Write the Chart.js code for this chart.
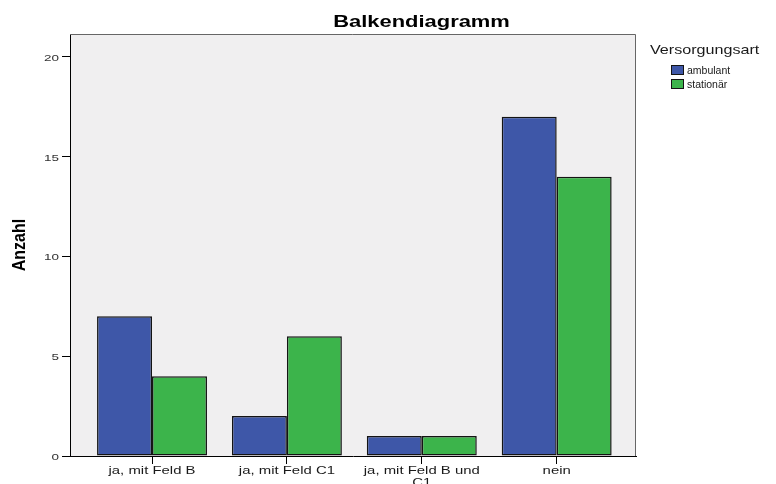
<!DOCTYPE html>
<html>
<head>
<meta charset="utf-8">
<script src="https://cdn.jsdelivr.net/npm/chart.js@4.4.1/dist/chart.umd.min.js"></script>
<style>
  html, body { margin: 0; padding: 0; background: #fff; }
  #wrap { width: 776px; height: 484px; }
</style>
</head>
<body>
<div id="wrap"><canvas id="chart" width="776" height="484"></canvas></div>
<script>
// Balkendiagramm — Anzahl je Kategorie, gruppiert nach Versorgungsart.
const categories = ['ja, mit Feld B', 'ja, mit Feld C1', ['ja, mit Feld B und', 'C1'], 'nein'];
const ambulant   = [7, 2, 1, 17];
const stationaer = [4, 6, 1, 14];
const yTicks     = [0, 5, 10, 15, 20];
const seriesNames = ['ambulant', 'stationär'];
const chartTitle  = 'Balkendiagramm';
const legendTitle = 'Versorgungsart';
const yTitle      = 'Anzahl';

const BLUE = '#3e57a8';
const GREEN = '#3cb44b';
const EDGE = '#141414';
const PLOT_BG = '#f0eff0';
const FONT = '"Liberation Sans", Arial, sans-serif';

// draws text stretched horizontally like the SPSS export
function wideText(ctx, text, x, y, { size, bold = false, sx = 1, align = 'left', color = '#000' }) {
    ctx.save();
    ctx.translate(x, y);
    ctx.scale(sx, 1);
    ctx.font = `${bold ? 'bold ' : ''}${size}px ${FONT}`;
    ctx.fillStyle = color;
    ctx.textAlign = align;
    ctx.textBaseline = 'alphabetic';
    ctx.fillText(text, 0, 0);
    ctx.restore();
}

const spssFrame = {
    id: 'spssFrame',
    beforeDraw(chart) {
        const { ctx, chartArea: a } = chart;
        ctx.save();
        ctx.fillStyle = PLOT_BG;
        ctx.fillRect(a.left, a.top, a.right - a.left, a.bottom - a.top);
        ctx.restore();
    },
    afterDraw(chart) {
        const { ctx, chartArea: a, scales } = chart;
        ctx.save();
        ctx.strokeStyle = '#666';
        ctx.lineWidth = 1;
        ctx.beginPath();
        ctx.moveTo(a.left, a.top + 0.5);
        ctx.lineTo(a.right - 0.5, a.top + 0.5);
        ctx.lineTo(a.right - 0.5, a.bottom);
        ctx.stroke();
        ctx.restore();

        // category labels under the tick marks
        scales.x.ticks.forEach((t, i) => {
            const px = scales.x.getPixelForTick(i);
            const lines = [].concat(categories[t.value]);
            lines.forEach((line, k) => {
                wideText(ctx, line, px, a.bottom + 18 + k * 11.5, { size: 10.5, sx: 1.42, align: 'center', color: '#1a1a1a' });
            });
        });

        // value labels left of the y axis
        scales.y.ticks.forEach((t, i) => {
            const py = scales.y.getPixelForTick(i);
            wideText(ctx, String(t.value), a.left - 11, py + 4, { size: 9.5, sx: 1.42, align: 'right', color: '#333' });
        });

        // title
        wideText(ctx, chartTitle, 421.5, 27, { size: 17, bold: true, sx: 1.29, align: 'center' });

        // y axis title, rotated
        ctx.save();
        ctx.translate(20, (a.top + a.bottom) / 2);
        ctx.rotate(-Math.PI / 2);
        ctx.scale(1, 1.15);
        ctx.font = `bold 16px ${FONT}`;
        ctx.fillStyle = '#000';
        ctx.textAlign = 'center';
        ctx.textBaseline = 'middle';
        ctx.fillText(yTitle, 0, 0);
        ctx.restore();

        // legend
        wideText(ctx, legendTitle, 650, 54, { size: 13, sx: 1.24, color: '#1a1a1a' });
        const colors = [BLUE, GREEN];
        seriesNames.forEach((name, i) => {
            const top = 65 + i * 14;
            ctx.save();
            ctx.fillStyle = colors[i];
            ctx.fillRect(671, top, 13, 10);
            ctx.strokeStyle = EDGE;
            ctx.lineWidth = 1;
            ctx.strokeRect(671.5, top + 0.5, 12, 9);
            ctx.restore();
            wideText(ctx, name, 687, top + 9, { size: 10, sx: 1.05, color: '#1a1a1a' });
        });
    },
};

new Chart(document.getElementById('chart'), {
    type: 'bar',
    data: {
        labels: categories,
        datasets: [
            { label: seriesNames[0], data: ambulant, backgroundColor: BLUE, borderColor: EDGE, borderWidth: 1.5, borderSkipped: false },
            { label: seriesNames[1], data: stationaer, backgroundColor: GREEN, borderColor: EDGE, borderWidth: 1.5, borderSkipped: false },
        ],
    },
    options: {
        responsive: false,
        animation: false,
        devicePixelRatio: 1,
        categoryPercentage: 0.815,
        barPercentage: 1,
        layout: { padding: { top: 34, right: 140, left: 6, bottom: 0 } },
        plugins: {
            legend: { display: false },
            title: { display: false },
            tooltip: { enabled: false },
        },
        scales: {
            x: {
                offset: false,
                grid: { drawOnChartArea: false, drawTicks: true, tickLength: 8, color: '#000', offset: false },
                border: { color: '#000' },
                ticks: { display: false },
                // SPSS leaves a wider margin than half a category at both ends
                afterBuildTicks: s => { s._startValue = -0.608; s._valueRange = 4.196; },
                afterFit: s => { s.height = 28; },
            },
            y: {
                min: 0,
                max: 21.15,
                grid: { drawOnChartArea: false, drawTicks: true, tickLength: 8, color: '#000' },
                border: { color: '#000' },
                ticks: { display: false },
                afterBuildTicks: s => { s.ticks = yTicks.map(v => ({ value: v })); },
                afterFit: s => { s.width = 64; },
            },
        },
    },
    plugins: [spssFrame],
});
</script>
</body>
</html>
